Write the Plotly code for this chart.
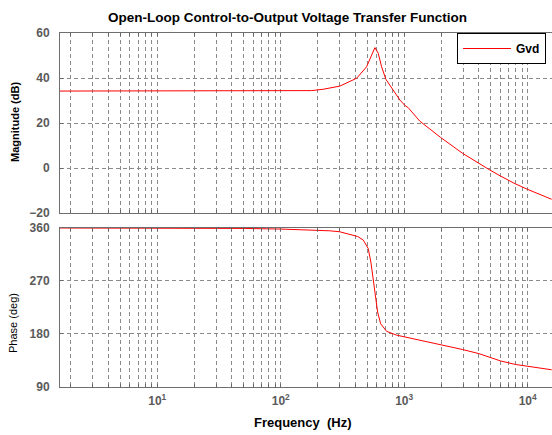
import math
import plotly.graph_objects as go

# ---- data ----
mag_freq = [1.63, 20, 60, 120, 178, 221, 301, 412, 496, 545, 579, 616, 656, 711,
            815, 923, 1013, 1077, 1339, 1971, 2972, 4027, 4943, 6035, 7983, 9980, 15630]
mag_db = [34.2, 34.2, 34.2, 34.3, 34.4, 35.0, 36.4, 39.9, 45.0, 50.2, 53.5, 51.0, 45.0, 39.4,
          34.7, 30.2, 27.8, 26.8, 20.8, 13.6, 6.5, 2.0, -0.9, -3.6, -7.1, -9.5, -13.9]

ph_freq = [1.63, 20, 50, 100, 143, 200, 250, 300, 364, 420, 466, 511, 537, 561, 587,
           609, 644, 720, 867, 1013, 1112, 1971, 2972, 4027, 4943, 6035, 7983, 9980, 15630]
ph_deg = [360, 359.8, 359.3, 358.2, 357.2, 356.2, 355.2, 353.6, 349.5, 345.5, 339.5, 325,
          302, 274, 245, 217, 197, 184, 177.5, 174.5, 172.5, 162, 153, 146, 139, 133.5,
          127.5, 124.2, 118.5]

x_range_hz = [1.63, 15740]
mag_ticks = [-20, 0, 20, 40, 60]
ph_ticks = [90, 180, 270, 360]
decades = [1, 10, 100, 1000, 10000]
decade_labels = {10: "10<sup>1</sup>", 100: "10<sup>2</sup>", 1000: "10<sup>3</sup>", 10000: "10<sup>4</sup>"}

x_grid = [m * d for d in decades for m in range(1, 10) if 1 <= m * d <= 20000]
x_text = [decade_labels.get(v, "") for v in x_grid]

W, H = 552, 435
def px_x(p): return p / W
def px_y(p): return 1 - p / H

fig = go.Figure()
fig.add_trace(go.Scatter(x=mag_freq, y=mag_db, mode="lines", name="Gvd",
                         line=dict(color="#ff0000", width=1), xaxis="x", yaxis="y"))
fig.add_trace(go.Scatter(x=ph_freq, y=ph_deg, mode="lines", name="Gvd", showlegend=False,
                         line=dict(color="#ff0000", width=1), xaxis="x2", yaxis="y2"))

tickfont = dict(family="Liberation Sans", size=12, color="#5a5a5a", weight="bold")
grid = dict(showgrid=True, gridcolor="#8a8a8a", griddash="4px,3px", gridwidth=1)
xr = [math.log10(x_range_hz[0]), math.log10(x_range_hz[1])]

common_x = dict(type="log", range=xr, domain=[px_x(60), 1], tickvals=x_grid,
                ticks="inside", ticklen=3, tickcolor="#666", showline=True,
                linecolor="#6e6e6e", linewidth=1, mirror="ticks", zeroline=False,
                automargin=False, tickfont=tickfont, **grid)

fig.update_layout(
    width=W, height=H, margin=dict(l=0, r=0, t=0, b=0),
    paper_bgcolor="white", plot_bgcolor="white",
    xaxis=dict(anchor="y", showticklabels=False, **common_x),
    xaxis2=dict(anchor="y2", ticktext=x_text, ticklabelstandoff=3, **common_x),
    yaxis=dict(domain=[px_y(213), px_y(33)], range=[-20, 60], tickvals=mag_ticks,
               anchor="x", ticks="inside", ticklen=3, tickcolor="#666", showline=True,
               linecolor="#6e6e6e", zeroline=False, automargin=False,
               tickfont=tickfont, ticklabelstandoff=7, **grid),
    yaxis2=dict(domain=[px_y(386.5), px_y(228)], range=[90, 360], tickvals=ph_ticks,
                anchor="x2", ticks="inside", ticklen=3, tickcolor="#666", showline=True,
                linecolor="#6e6e6e", zeroline=False, automargin=False,
                tickfont=tickfont, ticklabelstandoff=7, **grid),
    legend=dict(x=px_x(457), y=px_y(33), xanchor="left", yanchor="top",
                bgcolor="white", bordercolor="black", borderwidth=1, itemwidth=48,
                font=dict(family="Liberation Sans", size=12, color="black", weight="bold")),
    showlegend=True,
)

ann_font = dict(family="Liberation Sans", color="black")
def label(text, x, y, size, bold=True, angle=0):
    f = dict(size=size, **ann_font)
    if bold:
        f["weight"] = "bold"
    fig.add_annotation(text=text, x=px_x(x), y=px_y(y), xref="paper", yref="paper",
                       xanchor="center", yanchor="middle", showarrow=False,
                       textangle=angle, font=f)

label("Open-Loop Control-to-Output Voltage Transfer Function", 287, 17, 13.5)
label("Frequency  (Hz)", 303, 422, 13)
label("Magnitude (dB)", 15, 122, 11, angle=-90)
label("Phase (deg)", 13, 323, 11, bold=False, angle=-90)

fig.write_html("out.html")
